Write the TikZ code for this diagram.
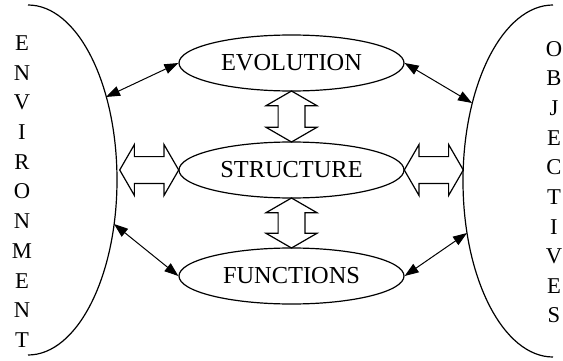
\documentclass[tikz,border=0pt]{standalone}
\usepackage{fontspec}
\setmainfont{Liberation Serif}
\usetikzlibrary{arrows.meta,shapes.geometric,shapes.arrows,calc}
\tikzset{
	block/.style={draw,ellipse,line width=0.6pt,minimum width=112.5pt,minimum height=28pt,inner sep=0pt,font=\fontsize{12.2}{14}\selectfont},
	link/.style={line width=0.5pt,{Triangle[length=7pt,width=5pt]}-{Triangle[length=7pt,width=5pt]}},
	hollow/.style={draw,double arrow,line width=0.6pt,inner xsep=0pt,inner ysep=6.4pt,double arrow head extend=6pt,double arrow tip angle=120},
	side/.style={font=\fontsize{11.3}{13}\selectfont,inner sep=0pt}
}
\begin{document}
\begin{tikzpicture}[x=0.5pt,y=0.5pt]
	\useasboundingbox (0,0) rectangle (563,360);
	% the two sides
	\draw[line width=0.6pt] (28,355) arc[start angle=90,end angle=-90,x radius=89,y radius=175];
	\draw[line width=0.6pt] (553,355) arc[start angle=90,end angle=270,x radius=90,y radius=176];
	\foreach \ch [count=\i] in {E,N,V,I,R,O,N,M,E,N,T}
		\node[side] (env\i) at (22,{317-29.7*(\i-1)}) {\ch};
	\foreach \ch [count=\i] in {O,B,J,E,C,T,I,V,E,S}
		\node[side] (obj\i) at (554,{311-29.6*(\i-1)}) {\ch};
	\coordinate (envA) at (106,263);
	\coordinate (envB) at (120,190);
	\coordinate (envC) at (114,136);
	\coordinate (objA) at (472,257);
	\coordinate (objB) at (463,190);
	\coordinate (objC) at (467,127);
	% the system
	\node[block] (evo) at (291.5,297) {EVOLUTION};
	\node[block] (str) at (291.5,190) {STRUCTURE};
	\node[block] (fun) at (291.5,84) {FUNCTIONS};
	\node[hollow,minimum height=25.5pt,rotate=90] (evostr) at ($(evo.south)!0.5!(str.north)$) {};
	\node[hollow,minimum height=25pt,rotate=90] (strfun) at ($(str.south)!0.5!(fun.north)$) {};
	\node[hollow,minimum height=29.5pt] (envstr) at ($(envB)!0.5!(str.west)$) {};
	\node[hollow,minimum height=29.5pt] (strobj) at ($(str.east)!0.5!(objB)$) {};
	\draw[link] (envA) -- (evo.west);
	\draw[link] (envC) -- (fun.west);
	\draw[link] (evo.east) -- (objA);
	\draw[link] (fun.east) -- (objC);
\end{tikzpicture}
\end{document}
